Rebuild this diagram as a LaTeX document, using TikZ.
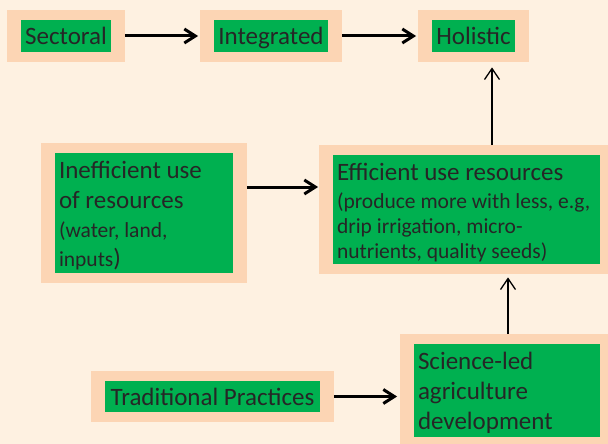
\documentclass[tikz,border=0pt]{standalone}
\usepackage{fontspec}
\setmainfont{Carlito}
\usetikzlibrary{positioning,fit,backgrounds,arrows.meta}
\definecolor{slidebg}{HTML}{FEF1E1}
\definecolor{framepeach}{HTML}{FCD5B4}
\definecolor{boxgreen}{HTML}{00B050}
\definecolor{textgray}{HTML}{262626}

\begin{document}
\begin{tikzpicture}[x=1pt,y=-1pt]
      \tikzstyle{stage}=[fill=boxgreen,text=textgray,inner sep=4pt,font=\fontsize{25}{30}\selectfont]
      \tikzstyle{oneline}=[stage,text height=20.5pt,text depth=3pt,minimum height=32pt]
      \tikzstyle{peachframe}=[fill=framepeach,inner xsep=13.5pt,inner ysep=9.5pt]
      \tikzstyle{bold arrow}=[line width=3pt,-{Straight Barb[length=11pt,width=14pt]}]
      \tikzstyle{thin arrow}=[line width=1.3pt,-{Straight Barb[length=11pt,width=15pt]}]
      \useasboundingbox (0,0) rectangle (608,444);
      % Top row: approaches
      \node (sect) at (66,36) [oneline,minimum width=90pt] {Sectoral};
      \node (integ) at (271,36) [oneline,minimum width=114pt] {Integrated};
      \node (holis) at (473.5,36) [oneline,minimum width=83pt] {Holistic};
      % Resource use
      \node (ineff) at (144,213) [stage] {\parbox[c][112pt][t]{170pt}{%
        \strut Inefficient use\\ of resources\par
        {\fontsize{21.5}{29}\selectfont (water, land,\\ inputs\fontsize{25}{29}\selectfont)\par}}};
      \node (eff) at (466.5,209.5) [stage] {\parbox[c][101pt][t]{259pt}{%
        \strut Efficient use resources\par\vspace{3pt}
        {\fontsize{21.5}{25}\selectfont (produce more with less, e.g,\\ drip irrigation, micro-\\ nutrients, quality seeds)\par}}};
      % Practices
      \node (trad) at (212.5,396.5) [oneline,minimum width=215pt,minimum height=31pt] {Traditional Practices};
      \node (sci) at (507,390.5) [stage] {\parbox[c][85pt][t]{178pt}{%
        \strut Science-led\\ agriculture\\ development\par}};
      % Peach frames behind the green boxes
      \begin{scope}[on background layer]
        \fill [slidebg] (0,0) rectangle (608,444);
        \node (sect-f) [peachframe,fit=(sect)] {};
        \node (integ-f) [peachframe,fit=(integ)] {};
        \node (holis-f) [peachframe,fit=(holis)] {};
        \node (ineff-f) [peachframe,fit=(ineff)] {};
        \node (eff-f) [peachframe,fit=(eff)] {};
        \node (trad-f) [peachframe,fit=(trad)] {};
        \node (sci-f) [peachframe,fit=(sci)] {};
      \end{scope}
      % Horizontal arrows
      \draw [bold arrow,shorten >=2pt] (sect-f) -- (integ-f);
      \draw [bold arrow,shorten >=2pt] (integ-f) -- (holis-f);
      \draw [bold arrow,shorten >=1pt] ([yshift=26pt]ineff-f.east) -- ([yshift=26pt]ineff-f.east -| eff-f.west);
      \draw [bold arrow,shorten >=3pt] (trad-f.east) -- (trad-f.east -| sci-f.west);
      % Vertical arrows
      \draw [thin arrow,shorten >=5.5pt] ([xshift=25.5pt]eff-f.north) -- ([xshift=25.5pt]eff-f.north |- holis-f.south);
      \draw [thin arrow,shorten >=3.5pt] ([xshift=1pt]sci-f.north) -- ([xshift=1pt]sci-f.north |- eff-f.south);
    \end{tikzpicture}
\end{document}
